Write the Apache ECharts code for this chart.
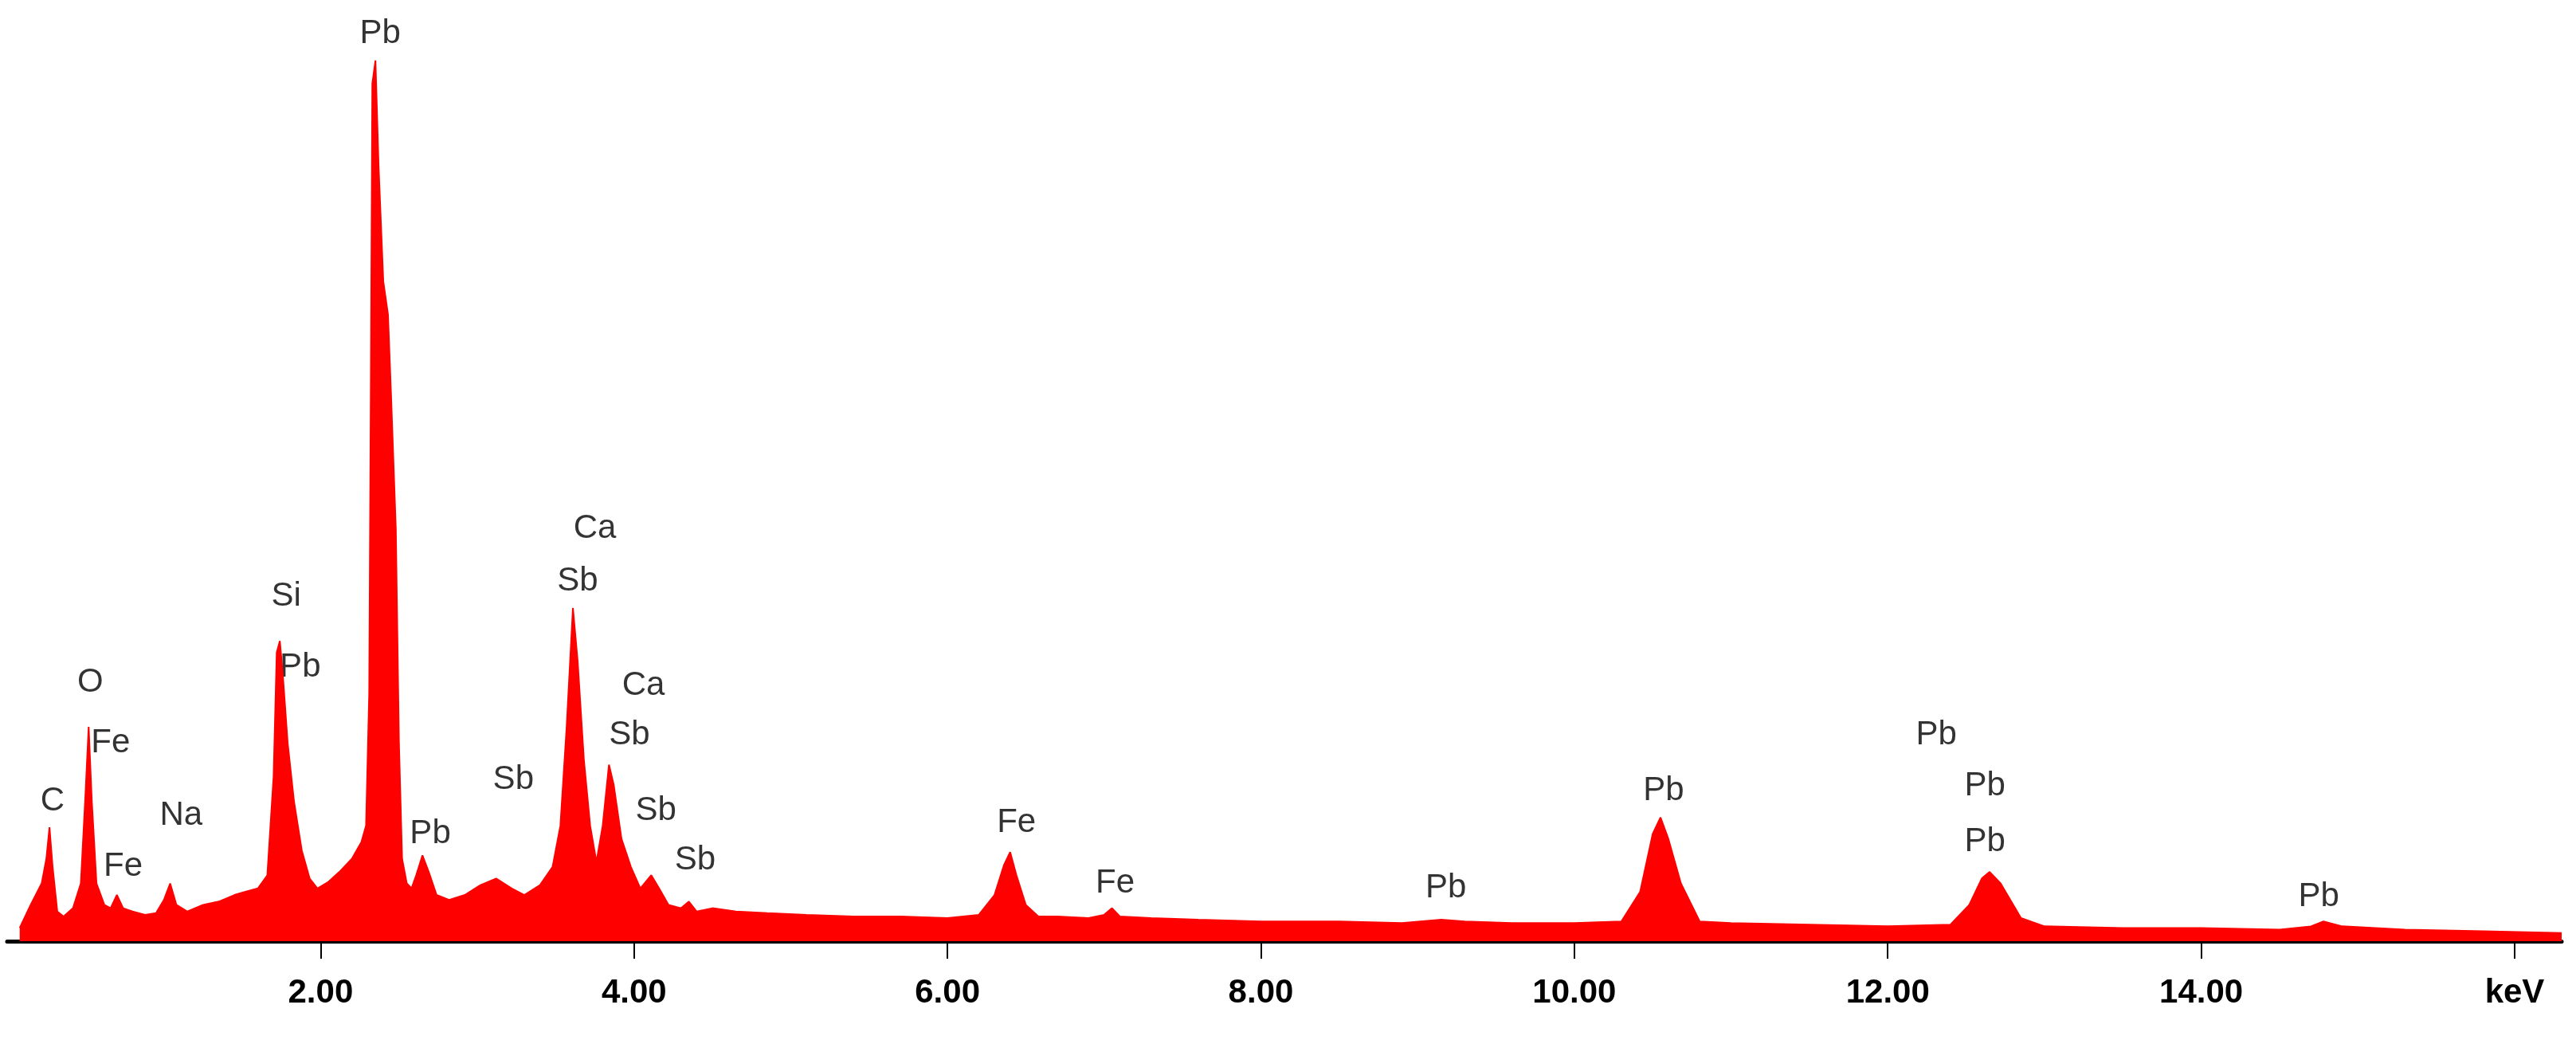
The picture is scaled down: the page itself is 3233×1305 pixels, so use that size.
<!DOCTYPE html>
<html><head><meta charset="utf-8">
<script src="https://cdn.jsdelivr.net/npm/echarts@6/dist/echarts.min.js"></script>
<style>html,body{margin:0;padding:0;background:#fff}#c{width:3233px;height:1305px}</style>
</head><body><div id="c"></div>
<script>
// Spectrum: energy (keV) and counts (relative)
const energy = [0.08,0.15,0.22,0.25,0.27,0.29,0.32,0.36,0.42,0.47,0.50,0.52,0.54,0.57,0.62,0.66,0.70,0.74,0.80,0.88,0.95,1.00,1.04,1.08,1.15,1.25,1.35,1.45,1.52,1.60,1.66,1.70,1.72,1.74,1.76,1.79,1.83,1.88,1.93,1.98,2.05,2.12,2.20,2.26,2.29,2.31,2.32,2.33,2.35,2.37,2.40,2.43,2.45,2.48,2.50,2.52,2.55,2.58,2.61,2.65,2.69,2.74,2.82,2.92,3.02,3.12,3.22,3.30,3.40,3.48,3.53,3.57,3.61,3.64,3.68,3.72,3.76,3.80,3.84,3.87,3.92,3.98,4.04,4.11,4.16,4.22,4.30,4.35,4.40,4.50,4.65,4.85,5.10,5.40,5.70,6.00,6.20,6.30,6.36,6.40,6.44,6.50,6.58,6.70,6.90,7.00,7.05,7.10,7.30,7.60,8.00,8.50,8.90,9.15,9.30,9.60,10.00,10.30,10.42,10.50,10.55,10.60,10.68,10.80,11.00,11.50,12.00,12.40,12.52,12.60,12.65,12.72,12.85,13.00,13.50,14.00,14.50,14.70,14.78,14.90,15.30,15.80,16.30];
const counts = [8,22,35,50,69,45,18,15,20,35,90,130,85,35,22,20,28,20,18,16,17,25,35,22,18,22,24,28,30,32,40,100,175,182,160,120,85,55,38,32,36,42,50,60,70,150,330,520,534,470,400,380,330,250,120,50,35,32,40,52,42,28,25,28,34,38,32,28,34,45,70,130,202,170,110,70,48,70,107,95,62,45,32,40,32,22,20,24,18,20,18,17,16,15,15,14,16,28,46,54,40,22,15,15,14,16,20,15,14,13,12,12,11,13,12,11,11,12,30,65,75,62,35,12,11,10,9,10,22,38,42,35,14,9,8,8,7,9,12,9,7,6,5];
// Peak annotations
const labelX = [0.29,0.53,0.66,0.74,1.11,1.78,1.87,2.38,2.70,3.23,3.75,3.64,4.06,3.97,4.14,4.39,6.44,7.07,9.18,10.57,12.31,12.62,12.62,14.75];
const labelY = [85,157,120,45,76,209,166,550,65,98,250,218,155,125,79,49,72,35,32,91,125,94,60,27];
const labelText = ['C','O','Fe','Fe','Na','Si','Pb','Pb','Pb','Sb','Ca','Sb','Ca','Sb','Sb','Sb','Fe','Fe','Pb','Pb','Pb','Pb','Pb','Pb'];
const tickLabels = {2:'2.00',4:'4.00',6:'6.00',8:'8.00',10:'10.00',12:'12.00',14:'14.00',16:'keV'};

const chart = echarts.init(document.getElementById('c'));
chart.setOption({
  animation:false,
  backgroundColor:'#fff',
  grid:{left:9,right:18,top:22,bottom:124},
  xAxis:{type:'value',min:0,max:16.3,interval:2,
    axisLine:{lineStyle:{color:'#000',width:5}},
    axisTick:{inside:false,length:22,lineStyle:{color:'#000',width:2}},
    splitLine:{show:false},
    axisLabel:{showMinLabel:false,showMaxLabel:false,margin:44,color:'#000',fontFamily:'Liberation Sans Narrow, Arial',fontWeight:'bold',fontSize:42,
      formatter:v=>tickLabels[Math.round(v)]||''}},
  yAxis:{type:'value',min:0,max:560,show:false},
  series:[
    {type:'line',data:energy.map((e,i)=>[e,counts[i]]),symbol:'none',
     lineStyle:{color:'#ff0000',width:2},areaStyle:{color:'#ff0000',opacity:1}},
    {type:'scatter',symbolSize:0,data:labelX.map((x,i)=>[x,labelY[i],labelText[i]]),
     label:{show:true,position:'inside',formatter:p=>p.data[2],color:'#000',fontFamily:'Liberation Sans, Arial',fontSize:42}}
  ]
});
</script></body></html>
